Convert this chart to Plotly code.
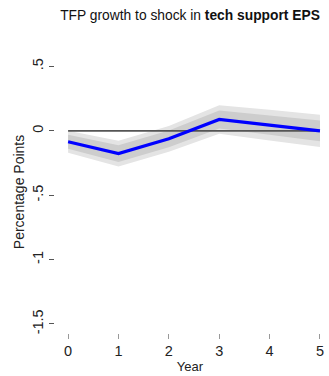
import plotly.graph_objects as go

# Impulse response of TFP growth, years after the shock
years = [0, 1, 2, 3, 4, 5]
response = [-0.085, -0.177, -0.062, 0.088, 0.044, 0.0]
# Half-widths of the two confidence bands
outer_half = [0.085, 0.10, 0.10, 0.11, 0.12, 0.125]
inner_half = [0.055, 0.065, 0.065, 0.07, 0.075, 0.08]
zero_line = [0, 0, 0, 0, 0, 0]

y_ticks = [0.5, 0, -0.5, -1, -1.5]
y_tick_text = [".5", "0", "-.5", "-1", "-1.5"]

fig = go.Figure()


def band(half, color):
    upper = [r + h for r, h in zip(response, half)]
    lower = [r - h for r, h in zip(response, half)]
    fig.add_trace(go.Scatter(x=years, y=upper, mode="lines", line=dict(width=0),
                             hoverinfo="skip", showlegend=False))
    fig.add_trace(go.Scatter(x=years, y=lower, mode="lines", line=dict(width=0),
                             fill="tonexty", fillcolor=color,
                             hoverinfo="skip", showlegend=False))


band(outer_half, "#e4e4e4")
band(inner_half, "#cdcdcd")

fig.add_trace(go.Scatter(x=years, y=zero_line, mode="lines",
                         line=dict(color="#555555", width=1.6),
                         hoverinfo="skip", showlegend=False))
fig.add_trace(go.Scatter(x=years, y=response, mode="lines",
                         line=dict(color="#0000ff", width=3.2),
                         showlegend=False))

fig.update_layout(
    width=329, height=376,
    margin=dict(l=55, r=4, t=51, b=43),
    paper_bgcolor="white", plot_bgcolor="white",
    font=dict(family="Liberation Sans, Arial, sans-serif", color="#222222"),
    title=dict(text="TFP growth to shock in <b>tech support EPS</b>",
               x=0.5, xref="paper", xanchor="center",
               y=1 - 15 / 376, yref="container", yanchor="middle",
               font=dict(size=13.8, color="#111111")),
    xaxis=dict(range=[-0.26, 5.1], tickvals=years, ticks="outside",
               ticklen=5, tickcolor="#999999", tickwidth=1,
               showgrid=False, zeroline=False, showline=False,
               tickfont=dict(size=14.5, color="#222222"),
               title=dict(text="Year", font=dict(size=13), standoff=3)),
    yaxis=dict(range=[-1.57, 0.62], tickvals=y_ticks, ticktext=y_tick_text,
               ticks="outside", ticklen=5, tickcolor="#555555", tickwidth=1,
               tickangle=-90, showgrid=False, zeroline=False, showline=False,
               tickfont=dict(size=14.5, color="#222222"),
               title=dict(text="Percentage Points", font=dict(size=14), standoff=2)),
)

fig.write_html("out.html")
